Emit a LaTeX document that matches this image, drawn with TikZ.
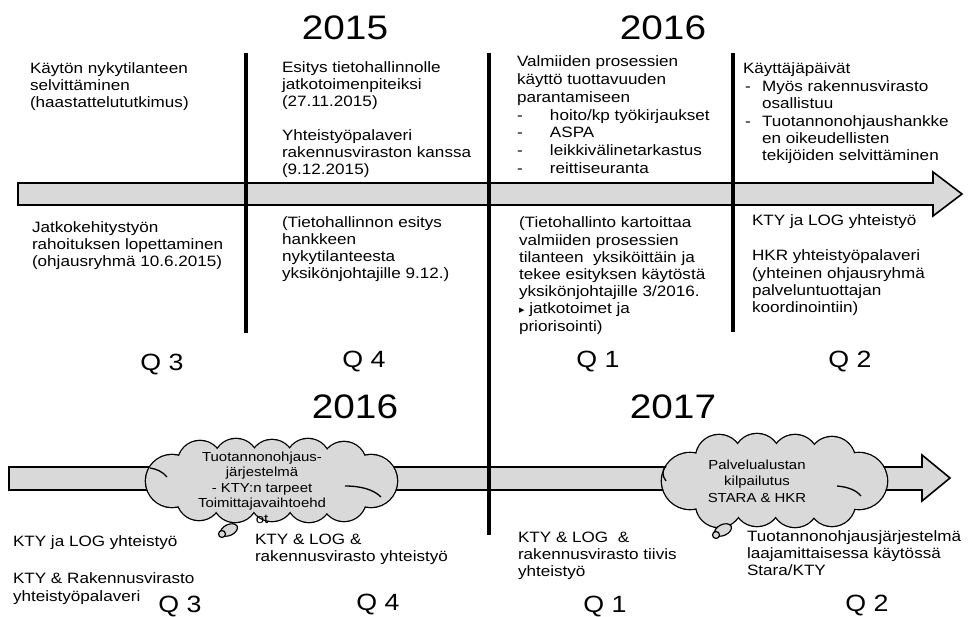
\documentclass[tikz,border=0pt]{standalone}
\usepackage{fontspec}
\setmainfont{Liberation Sans}[FakeStretch=1.14]
\newfontfamily\symfont{DejaVu Sans}
\tikzset{
  body/.style={anchor=north west, inner sep=0pt, outer sep=0pt, align=left, font=\fontsize{15}{17}\selectfont},
  year/.style={anchor=base, inner sep=0pt, font=\fontsize{34}{36}\selectfont},
  qlab/.style={anchor=base, inner sep=0pt, font=\fontsize{23.5}{26}\selectfont},
  cloudtxt/.style={anchor=north, inner sep=0pt, align=center, font=\fontsize{13.1}{15.5}\selectfont},
  timeline/.style={draw=black, line width=1.6pt, fill=gray!30, line join=miter},
  divider/.style={line width=3.3pt},
  puffline/.style={draw=black, line width=2.6pt},
  pufffill/.style={fill=gray!30},
  tailbub/.style={draw=black, fill=gray!30, line width=1.2pt},
  inarc/.style={draw=black, line width=1.3pt}
}
\begin{document}
\begin{tikzpicture}[x=1pt,y=-1pt]
\useasboundingbox (0,0) rectangle (976,617);
\fill[white] (0,0) rectangle (976,617);

% timelines
\draw[timeline] (18,183) -- (933,183) -- (933,172) -- (962,194) -- (933,216) -- (933,205) -- (18,205) -- cycle;
\draw[timeline] (9,467) -- (922,467) -- (922,455) -- (950,478) -- (922,501) -- (922,490) -- (9,490) -- cycle;

% dividers
\coordinate (d1t) at (246,53); \coordinate (d1b) at (246,333);
\coordinate (d2t) at (489,53); \coordinate (d2b) at (489,535);
\coordinate (d3t) at (733,53); \coordinate (d3b) at (733,332);
\draw[divider] (d1t) -- (d1b);
\draw[divider] (d2t) -- (d2b);
\draw[divider] (d3t) -- (d3b);

% cloud 1 (union of puffs)
\coordinate (c1) at (271,481);
\foreach \px/\py/\pr in {172/481/26, 200/463/22, 236/461/22, 272/462/22, 308/461/22, 344/464/22, 371/481/26,
                        344/499/22, 309/500/22, 272/499/22, 235/500/22, 199/498/22}
  \draw[puffline] (\px,\py) circle (\pr);
\foreach \px/\py/\pr in {172/481/26, 200/463/22, 236/461/22, 272/462/22, 308/461/22, 344/464/22, 371/481/26,
                        344/499/22, 309/500/22, 272/499/22, 235/500/22, 199/498/22}
  \fill[pufffill] (\px,\py) circle (\pr);
\fill[pufffill] (c1) ellipse (105 and 24);
\draw[inarc] (345,486) .. controls (362,486) and (374,490) .. (381,497);
\draw[inarc] (150,468) .. controls (157,469) and (163,472) .. (167,477);
\draw[tailbub, rotate around={25:(229,530)}] (229,530) ellipse (9 and 5.5);
\draw[tailbub] (222,534) circle (3.5);
\node[cloudtxt] (c1t) at (262,451.6) {Tuotannonohjaus-\\järjestelmä\\- KTY:n tarpeet\\Toimittajavaihtoehd\\ot};

% cloud 2 (union of puffs)
\coordinate (c2) at (775,481);
\foreach \px/\py/\pr in {690/481/28, 719/458/23, 757/457/23, 795/458/23, 832/460/23, 859/481/28,
                        832/503/23, 795/504/23, 757/503/23, 719/504/23}
  \draw[puffline] (\px,\py) circle (\pr);
\foreach \px/\py/\pr in {690/481/28, 719/458/23, 757/457/23, 795/458/23, 832/460/23, 859/481/28,
                        832/503/23, 795/504/23, 757/503/23, 719/504/23}
  \fill[pufffill] (\px,\py) circle (\pr);
\fill[pufffill] (c2) ellipse (95 and 26);
\draw[inarc] (837,486) .. controls (848,487) and (856,490) .. (861,496);
\draw[inarc] (666,466) .. controls (662,470) and (662,476) .. (666,481);
\draw[tailbub, rotate around={25:(723,530)}] (723,530) ellipse (9 and 5.5);
\draw[tailbub] (716,535) circle (3.5);
\node[cloudtxt, font=\fontsize{13.1}{16.5}\selectfont] (c2t) at (757,459.5) {Palvelualustan\\kilpailutus\\STARA \& HKR};

% years
\node[year] (y2015) at (345,40) {2015};
\node[year] (y2016a) at (663,40) {2016};
\node[year] (y2016b) at (355,418) {2016};
\node[year] (y2017) at (673,418) {2017};

% quarters
\node[qlab] (q3a) at (162,370) {Q 3};
\node[qlab] (q4a) at (364,367) {Q 4};
\node[qlab] (q1a) at (598,367) {Q 1};
\node[qlab] (q2a) at (850,367) {Q 2};
\node[qlab] (q3b) at (180,612) {Q 3};
\node[qlab] (q4b) at (378,610) {Q 4};
\node[qlab] (q1b) at (605,612) {Q 1};
\node[qlab] (q2b) at (867,611) {Q 2};

% upper texts
\node[body] (tA) at (30,63.1) {Käytön nykytilanteen\\selvittäminen\\(haastattelututkimus)};
\node[body] (tB) at (32,222.1) {Jatkokehitystyön\\rahoituksen lopettaminen\\(ohjausryhmä 10.6.2015)};
\node[body] (tC) at (282,62.1) {Esitys tietohallinnolle\\jatkotoimenpiteiksi\\(27.11.2015)\\[17pt]Yhteistyöpalaveri\\rakennusviraston kanssa\\(9.12.2015)};
\node[body] (tD) at (282,217.1) {(Tietohallinnon esitys\\hankkeen\\nykytilanteesta\\yksikönjohtajille 9.12.)};
\node[body, font=\fontsize{15}{17.7}\selectfont] (tE) at (517,56.1) {Valmiiden prosessien\\käyttö tuottavuuden\\parantamiseen\\\makebox[33pt][l]{-}hoito/kp työkirjaukset\\\makebox[33pt][l]{-}ASPA\\\makebox[33pt][l]{-}leikkivälinetarkastus\\\makebox[33pt][l]{-}reittiseuranta};
\node[body, font=\fontsize{15}{17.2}\selectfont] (tF) at (519,217.1) {(Tietohallinto kartoittaa\\valmiiden prosessien\\tilanteen\ \ yksiköittäin ja\\tekee esityksen käytöstä\\yksikönjohtajille 3/2016.\\{\symfont\fontsize{11}{12}\selectfont ▸} jatkotoimet ja\\priorisointi)};
\node[body, font=\fontsize{15}{17.4}\selectfont] (tG) at (743,63.1) {Käyttäjäpäivät\\\makebox[19pt][l]{\hspace{2pt}-}Myös rakennusvirasto\\\hspace*{19pt}osallistuu\\\makebox[19pt][l]{\hspace{2pt}-}Tuotannonohjaushankke\\\hspace*{19pt}en oikeudellisten\\\hspace*{19pt}tekijöiden selvittäminen};
\node[body, font=\fontsize{15}{17.4}\selectfont] (tH) at (752,215.1) {KTY ja LOG yhteistyö\\[17.4pt]HKR yhteistyöpalaveri\\(yhteinen ohjausryhmä\\palveluntuottajan\\koordinointiin)};

% lower texts
\node[body, font=\fontsize{15}{18.3}\selectfont] (tI) at (13,536.1) {KTY ja LOG yhteistyö\\[18.3pt]KTY \& Rakennusvirasto\\yhteistyöpalaveri};
\node[body] (tJ) at (255,534.1) {KTY \& LOG \&\\rakennusvirasto yhteistyö};
\node[body] (tK) at (518,532.1) {KTY \& LOG\ \ \&\\rakennusvirasto tiivis\\yhteistyö};
\node[body] (tL) at (747,531.1) {Tuotannonohjausjärjestelmä\\laajamittaisessa käytössä\\Stara/KTY};
\end{tikzpicture}
\end{document}
